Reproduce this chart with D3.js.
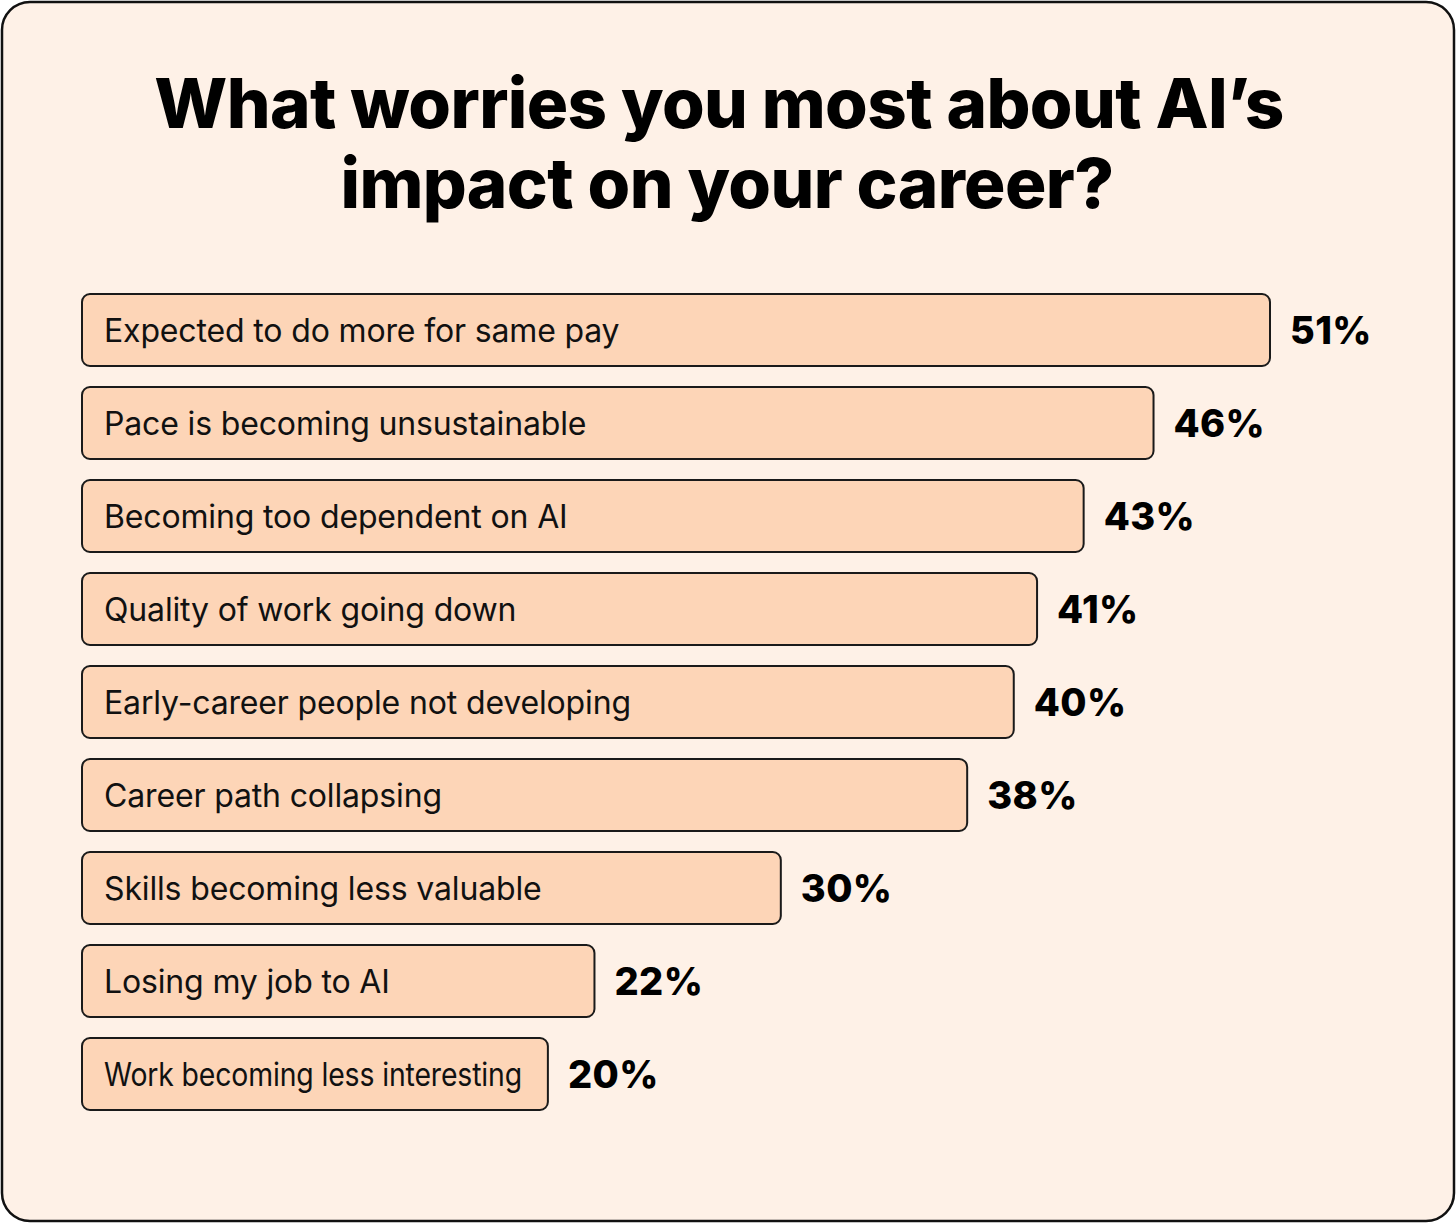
<!DOCTYPE html>
<html>
<head>
<meta charset="utf-8">
<script src="https://cdn.jsdelivr.net/npm/d3@7"></script>
<style>
  html, body { margin: 0; padding: 0; background: #ffffff; }
  svg { display: block; }
</style>
</head>
<body>
<script>
// 问卷数据
var categories = [
    "Expected to do more for same pay",
    "Pace is becoming unsustainable",
    "Becoming too dependent on AI",
    "Quality of work going down",
    "Early-career people not developing",
    "Career path collapsing",
    "Skills becoming less valuable",
    "Losing my job to AI",
    "Work becoming less interesting"
];
var values = [51, 46, 43, 41, 40, 38, 30, 22, 20];
var titleLines = ["What worries you most about AI\u2019s", "impact on your career?"];

// 画布大小
var width = 1456, height = 1223;
var barLeft = 82, barTop = 294, barHeight = 72, rowStep = 93;

var svg = d3.select("body")
    .append("svg")
    .attr("width", width)
    .attr("height", height);

// 卡片背景
svg.append("rect")
    .attr("x", 2).attr("y", 2)
    .attr("width", width - 4).attr("height", height - 4)
    .attr("rx", 28)
    .attr("fill", "#fef1e7")
    .attr("stroke", "#111")
    .attr("stroke-width", 2.5);

// 标题
svg.append("text")
    .attr("text-anchor", "middle")
    .attr("font-family", "Inter, sans-serif")
    .attr("font-weight", 800)
    .attr("font-size", 69)
    .attr("letter-spacing", -0.6)
    .attr("fill", "#000")
    .selectAll("tspan")
    .data(titleLines)
    .join("tspan")
    .attr("x", function(d, i) { return i === 0 ? 719 : 727; })
    .attr("y", function(d, i) { return 128 + i * 80; })
    .text(function(d) { return d; });

// 比例尺
var x = d3.scaleLinear().domain([0, 51]).range([barLeft, 1270]);
var y = d3.scaleBand()
    .domain(categories)
    .range([barTop, barTop + rowStep * (categories.length - 1) + barHeight])
    .paddingInner((rowStep - barHeight) / rowStep)
    .paddingOuter(0);

var g = svg.append("g");

var row = g.selectAll("g.row")
    .data(categories)
    .join("g")
    .attr("class", "row");

row.append("rect")
    .attr("x", x(0))
    .attr("y", function(d) { return y(d); })
    .attr("width", function(d, i) { return x(values[i]) - x(0); })
    .attr("height", y.bandwidth())
    .attr("rx", 8)
    .attr("fill", "#fdd5b7")
    .attr("stroke", "#1a1a1a")
    .attr("stroke-width", 2);

row.append("text")
    .attr("x", barLeft + 22)
    .attr("y", function(d) { return y(d) + y.bandwidth() / 2; })
    .attr("dy", "0.36em")
    .attr("font-family", "Inter, sans-serif")
    .attr("font-size", 32)
    .attr("letter-spacing", -0.15)
    .attr("fill", "#111")
    .each(function(d, i) {
        // 最后一条文字被压缩
        if (i === categories.length - 1) d3.select(this).attr("textLength", 418).attr("lengthAdjust", "spacingAndGlyphs");
    })
    .text(function(d) { return d; });

row.append("text")
    .attr("x", function(d, i) { return x(values[i]) + 20; })
    .attr("y", function(d) { return y(d) + y.bandwidth() / 2; })
    .attr("dy", "0.36em")
    .attr("font-family", "Inter, sans-serif")
    .attr("font-weight", 800)
    .attr("font-size", 38)
    .attr("letter-spacing", 0.4)
    .attr("fill", "#000")
    .text(function(d, i) { return values[i] + "%"; });
</script>
</body>
</html>
